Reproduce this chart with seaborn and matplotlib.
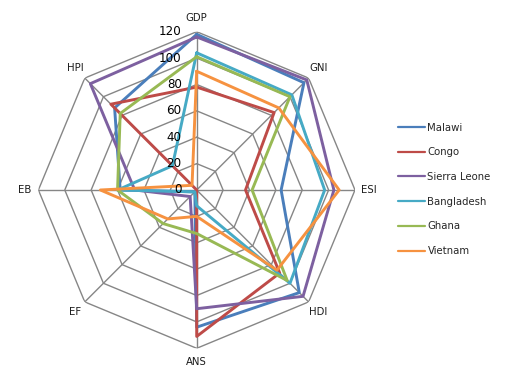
import numpy as np  # cálculos de ângulos
import pandas as pd  # tabela longa para o seaborn
import matplotlib
matplotlib.use("Agg")
import matplotlib.pyplot as plt
import matplotlib.transforms as mtransforms
import seaborn as sns

sns.set_style("white")
plt.rcParams["font.family"] = ["DejaVu Sans"]

# Eixos do radar (sentido horário a partir do topo)
eixos = ["GDP", "GNI", "ESI", "HDI", "ANS", "EF", "EB", "HPI"]
paises = ["Malawi", "Congo", "Sierra Leone", "Bangladesh", "Ghana", "Vietnam"]

# Valores
malawi = [118, 115, 64, 110, 104, 2, 58, 88]
congo = [78, 83, 37, 89, 111, 0, 0, 92]
serra_leoa = [116, 118, 104, 114, 90, 7, 47, 114]
bangladesh = [104, 102, 97, 100, 12, 2, 60, 26]
gana = [101, 100, 42, 97, 33, 36, 60, 82]
vietname = [90, 88, 108, 86, 20, 31, 73, 5]

aneis = [0, 20, 40, 60, 80, 100, 120]
cores = ["#4A7EBB", "#BE4B48", "#7D60A0", "#46AAC5", "#98B954", "#F69240"]
cinza = "#868686"

# Ângulos (fecha o polígono repetindo o primeiro ponto)
n = len(eixos)
angulos = np.linspace(0, 2 * np.pi, n + 1)

linhas = []
for pais, valores in zip(paises, [malawi, congo, serra_leoa, bangladesh, gana, vietname]):
    fechado = valores + valores[:1]
    for a, v in zip(angulos, fechado):
        linhas.append({"pais": pais, "theta": a, "valor": v})
df = pd.DataFrame(linhas)

fig = plt.figure(figsize=(5.08, 3.8), dpi=100)
lado = 316.6
ax = fig.add_axes([(196.7 - lado / 2) / 508, (190 - lado / 2) / 380, lado / 508, lado / 380],
                  projection="polar")
ax.set_theta_zero_location("N")
ax.set_theta_direction(-1)

# Grelha poligonal estilo Excel
for r in aneis[1:]:
    ax.plot(angulos, [r] * (n + 1), color=cinza, lw=1.0, zorder=0)
for a in angulos[:-1]:
    ax.plot([a, a], [0, aneis[-1]], color=cinza, lw=1.0, zorder=0)

sns.lineplot(data=df, x="theta", y="valor", hue="pais", palette=cores, sort=False,
             estimator=None, linewidth=2.1, ax=ax)

ax.set_xticks([])
ax.set_yticks([])
ax.set_ylim(0, aneis[-1])
ax.grid(False)
ax.spines["polar"].set_visible(False)
ax.set_xlabel("")
ax.set_ylabel("")

# Nomes dos eixos
for a, nome in zip(angulos[:-1], eixos):
    ax.text(a, 130.5, nome, ha="center", va="center", fontsize=7.3, color="#1a1a1a")

# Rótulos da escala ao longo do eixo GDP
desloca = ax.transData + mtransforms.ScaledTranslation(-15 / 100, 0, fig.dpi_scale_trans)
for r in aneis:
    ax.text(0, r, str(r), transform=desloca, ha="right", va="center", fontsize=8.6,
            color="black")

leg = ax.legend(loc="upper left", bbox_to_anchor=(394 / 508, 1 - 118.5 / 380),
                bbox_transform=fig.transFigure, borderaxespad=0, frameon=False, title=None,
                fontsize=7.3, handlelength=2.7, handletextpad=0.2, labelspacing=1.45)
for h in leg.get_lines():
    h.set_linewidth(1.6)

fig.savefig("out.png", dpi=100)
